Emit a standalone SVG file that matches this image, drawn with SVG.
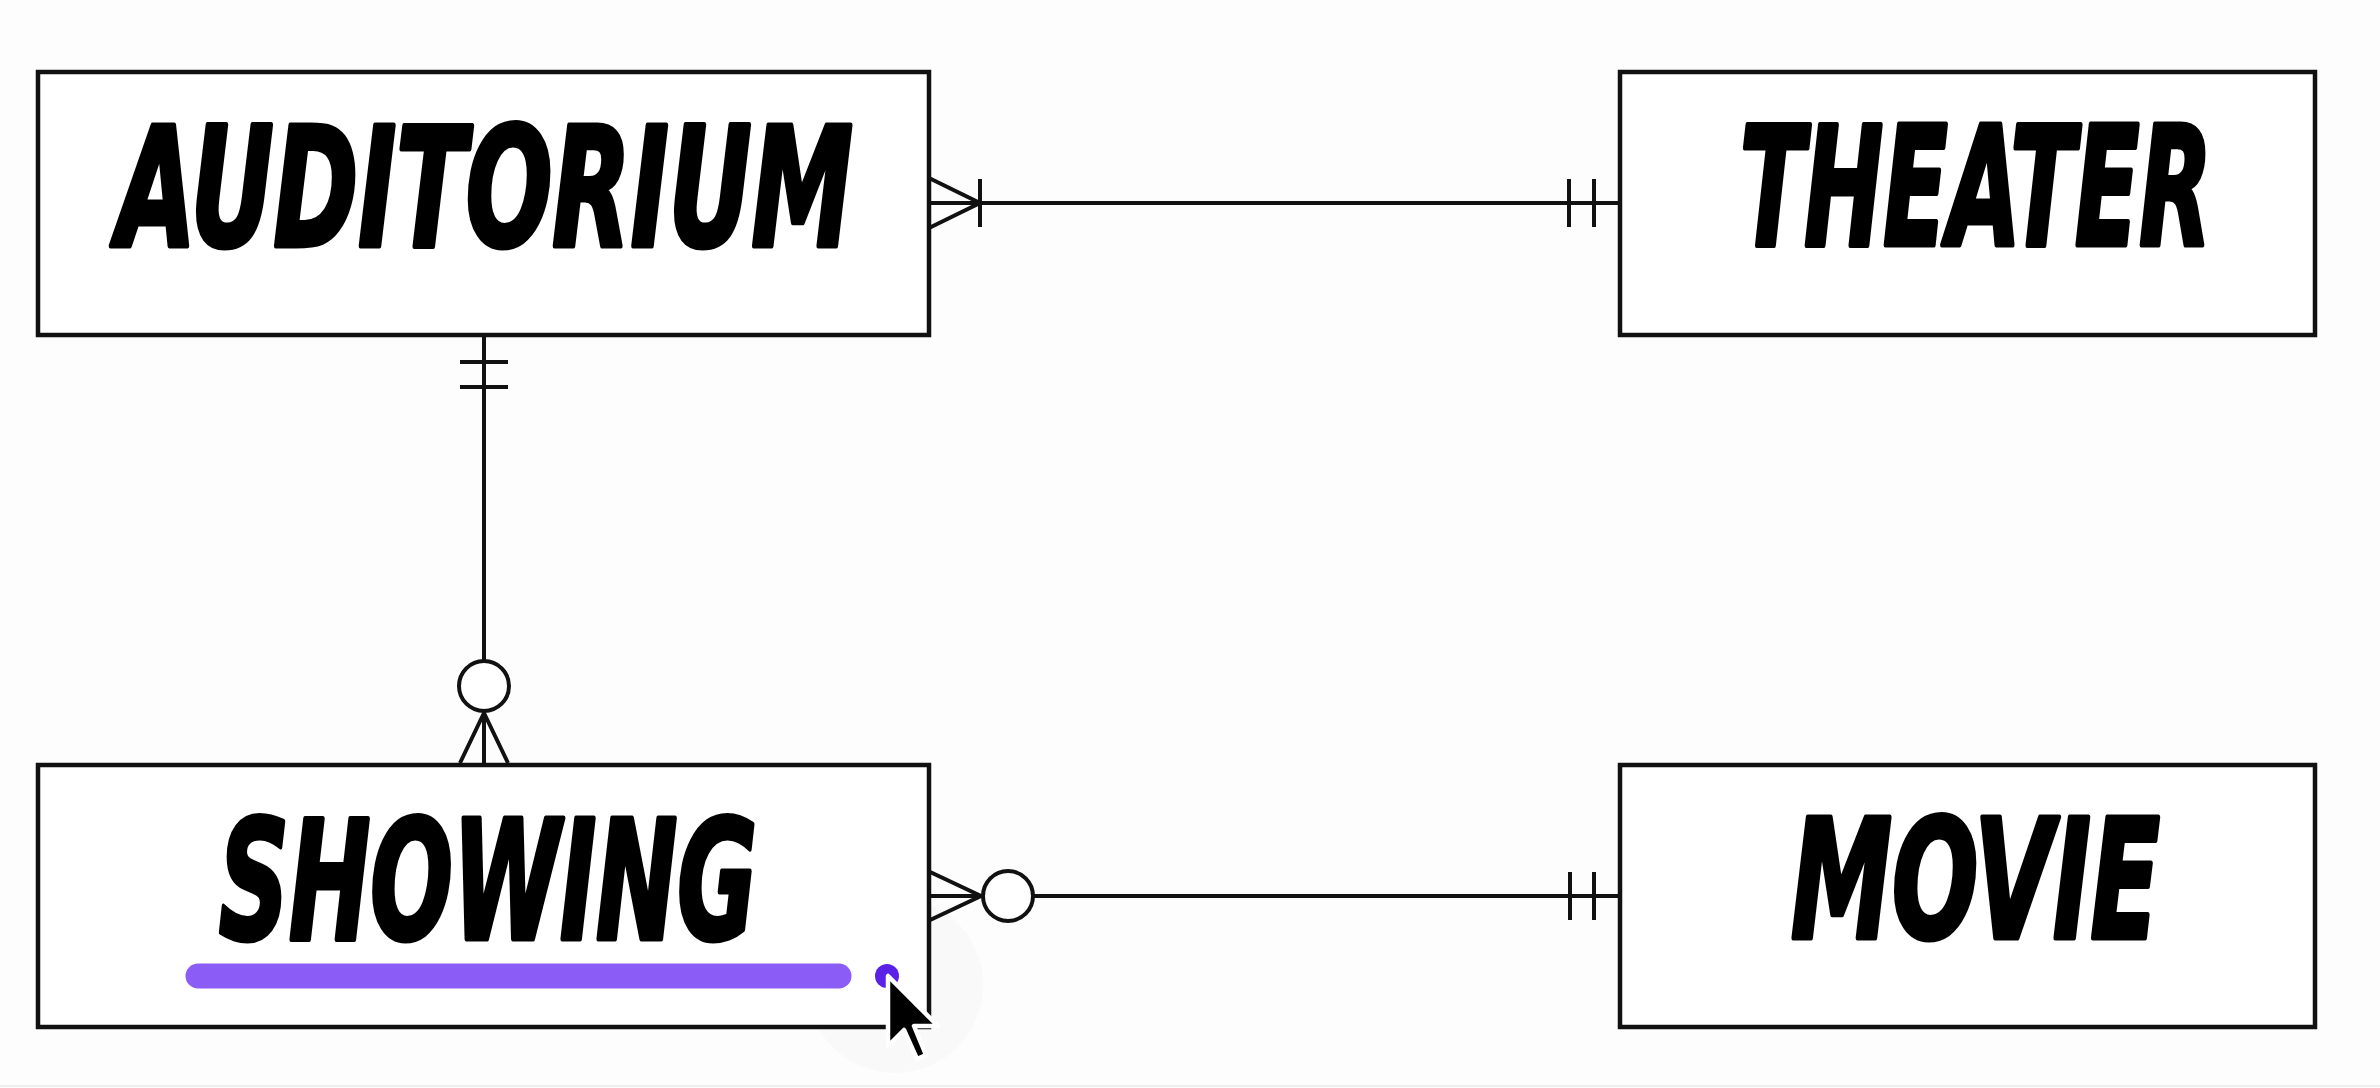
<svg xmlns="http://www.w3.org/2000/svg" width="2380" height="1088" viewBox="0 0 2380 1088">
<style>
.box{fill:#ffffff;stroke:#111111;stroke-width:4.5}
.lbl{font-family:"Liberation Sans Narrow","DejaVu Sans Condensed","Liberation Sans",sans-serif;font-weight:bold;font-style:italic;font-size:165px;fill:#000000;stroke:#000000;stroke-width:5;stroke-linejoin:round}
.ln{stroke:#111111;stroke-width:4;fill:none;stroke-linecap:butt}
.ring{stroke:#111111;stroke-width:4;fill:#ffffff}
</style>
<rect x="0" y="0" width="2380" height="1088" fill="#fdfdfd"/>
<line x1="0" y1="1086" x2="2380" y2="1086" stroke="#eeeeee" stroke-width="2"/>
<circle cx="895" cy="985" r="88" fill="#f9f9f9"/>
<g id="connectors">
  <g id="auditorium-theater">
    <line class="ln" x1="929" y1="203" x2="1620" y2="203"/>
    <polyline class="ln" points="929,178 980,203 929,228"/>
    <line class="ln" x1="980" y1="179" x2="980" y2="227"/>
    <line class="ln" x1="1569" y1="179" x2="1569" y2="227"/>
    <line class="ln" x1="1594" y1="179" x2="1594" y2="227"/>
  </g>
  <g id="auditorium-showing">
    <line class="ln" x1="484" y1="335" x2="484" y2="661"/>
    <line class="ln" x1="460" y1="362" x2="508" y2="362"/>
    <line class="ln" x1="460" y1="387" x2="508" y2="387"/>
    <circle class="ring" cx="484" cy="686" r="25"/>
    <line class="ln" x1="484" y1="711" x2="484" y2="763"/>
    <polyline class="ln" points="460,763 484,713 508,763"/>
  </g>
  <g id="showing-movie">
    <line class="ln" x1="1033" y1="896" x2="1620" y2="896"/>
    <line class="ln" x1="928" y1="896" x2="983" y2="896"/>
    <polyline class="ln" points="928,871 981,896 928,921"/>
    <circle class="ring" cx="1008" cy="896" r="25"/>
    <line class="ln" x1="1570" y1="872" x2="1570" y2="920"/>
    <line class="ln" x1="1594" y1="872" x2="1594" y2="920"/>
  </g>
</g>
<g id="auditorium">
  <rect class="box" x="38" y="72" width="891" height="263"/>
  <text class="lbl" x="117" y="246" textLength="736" lengthAdjust="spacingAndGlyphs">AUDITORIUM</text>
</g>
<g id="theater">
  <rect class="box" x="1620" y="72" width="695" height="263"/>
  <text class="lbl" x="1740" y="245" textLength="472" lengthAdjust="spacingAndGlyphs">THEATER</text>
</g>
<g id="showing">
  <rect class="box" x="38" y="765" width="891" height="262"/>
  <text class="lbl" x="219" y="939" textLength="538" lengthAdjust="spacingAndGlyphs">SHOWING</text>
  <line x1="198" y1="976" x2="839" y2="976" stroke="#8b5cf6" stroke-width="25" stroke-linecap="round"/>
  <circle cx="887" cy="976" r="12" fill="#5b21e6"/>
</g>
<g id="movie">
  <rect class="box" x="1620" y="765" width="695" height="262"/>
  <text class="lbl" x="1791" y="938" textLength="369" lengthAdjust="spacingAndGlyphs">MOVIE</text>
</g>
<g id="cursor">
  <path d="M888,976 L888,1046 L904,1030 L917,1059 L926,1055 L914,1026 L938,1026 Z" fill="#000000" stroke="#ffffff" stroke-width="4.5" stroke-linejoin="round"/>
</g>
</svg>
